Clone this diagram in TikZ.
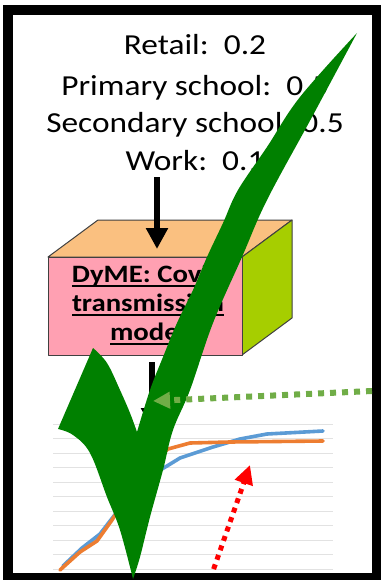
\documentclass[tikz,border=0pt]{standalone}
\usepackage{fontspec}
\setmainfont{Carlito}[FakeStretch=1.15]
\usetikzlibrary{arrows.meta}
\definecolor{boxpink}{RGB}{255,160,178}
\definecolor{boxtop}{RGB}{250,192,128}
\definecolor{boxside}{RGB}{166,206,0}
\definecolor{edgegray}{RGB}{64,64,64}
\definecolor{tickgreen}{RGB}{0,128,0}
\definecolor{hintgreen}{RGB}{112,173,71}
\definecolor{seriesblue}{RGB}{91,155,213}
\definecolor{seriesorange}{RGB}{237,125,49}
\definecolor{gridgray}{RGB}{226,226,226}
\newcommand{\modelline}[1]{\setbox0\hbox{#1}\rlap{\rule[-5pt]{\wd0}{2pt}}\box0}
\tikzset{
    weight/.style={font=\fontsize{29}{35}\selectfont, anchor=base, inner sep=0pt},
    face/.style={draw=edgegray, line width=1pt, line join=round},
    feed/.style={line width=6pt, -{Triangle[length=21pt,width=21pt]}},
    gridline/.style={gridgray, line width=1pt},
    series/.style={line width=3.6pt, line join=round, line cap=round},
    dotarrow/.style={line width=#1, dash pattern=on #1 off #1}
}

\begin{document}
\begin{tikzpicture}[x=1pt,y=-1pt]
\useasboundingbox (0,0) rectangle (380,580);
\fill[white] (0,0) rectangle (380,580);
% scenario weights
\foreach \y/\n/\t in {55/retail/{Retail:\ \ 0.2}, 96/primary/{Primary school:\ \ 0.5}, 133/secondary/{Secondary school: 0.5}, 170/work/{Work:\ \ 0.1}}{
    \node[weight] (\n) at (195,\y) {\t};
}
% the model as a box
\filldraw[face, fill=boxtop] (48,257) -- (98,220) -- (292,220) -- (242,257) -- cycle;
\filldraw[face, fill=boxside] (242,257) -- (292,220) -- (292,318) -- (242,355) -- cycle;
\filldraw[face, fill=boxpink] (48,257) rectangle (242,355);
\node[align=center, font=\fontsize{25}{29}\selectfont\bfseries] (model) at (148,305) {\modelline{DyME: Covid}\\\modelline{transmission}\\\modelline{model}};
\coordinate (intop) at (157,177);
\coordinate (inbot) at (157,249);
\coordinate (outtop) at (152,362);
\coordinate (outbot) at (152,429);
\draw[feed] (intop) -- (inbot);
\draw[feed] (outtop) -- (outbot);
% chart
\foreach \i in {0,...,10}{
    \draw[gridline] (53,{424+\i*14.5}) -- (333,{424+\i*14.5});
}
\draw[series, seriesblue] plot coordinates {(63,566) (82,548) (100,534) (117,512) (135,490) (150,476) (167,466) (180,458) (213,447) (240,439) (267,434) (323,431)};
\draw[series, seriesorange] plot coordinates {(60,570) (80,552) (97,541) (112,520) (130,492) (150,465) (168,449) (190,443) (230,442) (323,441)};
\coordinate (redtail) at (207,588);
\coordinate (redtip) at (250,465);
\draw[dotarrow=5pt, red, -{Triangle[length=19pt,width=18pt]}] (redtail) -- (redtip);
\draw[line width=10pt] (8,10) rectangle (377,578);
% the tick
\fill[tickgreen]
    plot[smooth, tension=0.6] coordinates {(357,33) (312,117) (267,200) (242,257) (213,323) (190,390) (173,430) (163,470) (150,517) (140,557) (133,579)}
    -- plot[smooth, tension=0.6] coordinates {(133,579) (120,530) (107,497) (90,453) (73,435) (58,429)}
    -- (93,348)
    -- plot[smooth, tension=0.6] coordinates {(93,348) (107,363) (120,390) (130,413) (137,432)}
    -- plot[smooth, tension=0.6] coordinates {(137,432) (150,390) (163,357) (177,323) (193,290) (207,257) (223,223) (238,190) (267,147) (300,97) (357,33)}
    -- cycle;
\coordinate (greentail) at (372,391);
\coordinate (greentip) at (153,401);
\draw[dotarrow=6pt, hintgreen, -{Triangle[length=17pt,width=16pt]}] (greentail) -- (greentip);
\end{tikzpicture}
\end{document}
